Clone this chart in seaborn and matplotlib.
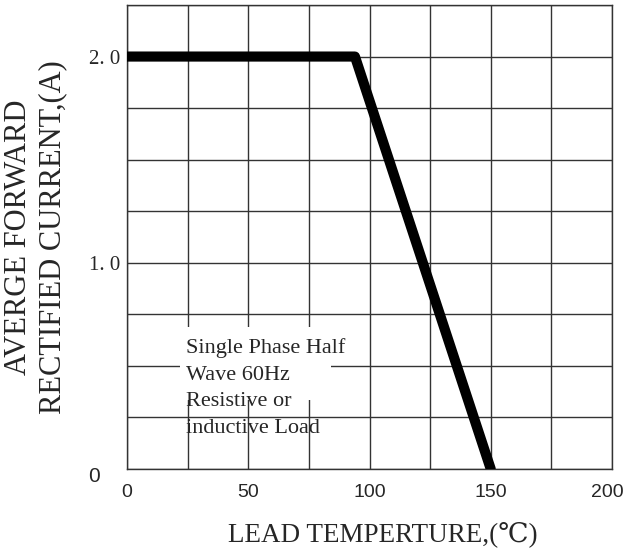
import numpy as np
import pandas as pd
import matplotlib
matplotlib.use('Agg')
import matplotlib.pyplot as plt
import matplotlib.transforms as mtrans
from matplotlib import font_manager
from matplotlib.patches import Rectangle
import seaborn as sns

# derating curve
temp = [0, 94, 150]
current = [2.0, 2.0, 0.0]

x_ticks = [0, 50, 100, 150, 200]
x_ticklabels = ['0', '50', '100', '150', '200']
y_ticks = [0, 1.0, 2.0]
y_ticklabels = ['0', '1. 0', '2. 0']

note = 'Single Phase Half\nWave 60Hz\nResistive or\ninductive Load'

installed = {f.name for f in font_manager.fontManager.ttflist}
narrow = [f for f in ['Liberation Sans Narrow', 'DejaVu Sans Condensed', 'Liberation Sans']
          if f in installed][0]
serif = ['Liberation Serif', 'DejaVu Serif']

sns.set_style('white')

df = pd.DataFrame({'temp': temp, 'current': current})

fig = plt.figure(figsize=(6.25, 5.54), dpi=100)
ax = fig.add_axes([0.2032, 0.1534, 0.7760, 0.8376])

sns.lineplot(data=df, x='temp', y='current', color='black', lw=7.3,
             solid_capstyle='round', solid_joinstyle='round', ax=ax, zorder=4)

ax.set_xlim(0, 200)
ax.set_ylim(0, 2.25)
ax.set_xticks(x_ticks)
ax.set_xticks(np.arange(0, 201, 25), minor=True)
ax.set_yticks(y_ticks)
ax.set_yticks(np.arange(0, 2.26, 0.25), minor=True)
ax.grid(which='both', color='#333333', lw=1.0)
ax.set_axisbelow(True)
for s in ax.spines.values():
    s.set_color('#333333')
    s.set_linewidth(1.0)
    s.set_visible(True)
ax.tick_params(which='both', length=0)
ax.tick_params(axis='x', pad=11)
ax.tick_params(axis='y', pad=5)

ax.set_xticklabels(x_ticklabels, fontfamily=narrow, fontsize=14)
last = ax.get_xticklabels()[-1]
last.set_transform(last.get_transform() + mtrans.ScaledTranslation(-0.05, 0, fig.dpi_scale_trans))
ax.set_yticklabels(y_ticklabels, fontfamily=serif, fontsize=15)
zero = ax.get_yticklabels()[0]
zero.set_fontfamily(narrow)
zero.set_transform(zero.get_transform() + mtrans.ScaledTranslation(-0.2, -0.05, fig.dpi_scale_trans))

ax.set_xlabel('LEAD TEMPERTURE,(℃)', fontfamily=serif, fontsize=19.5)
ax.xaxis.set_label_coords(0.528, -0.112)
ax.set_ylabel('AVERGE FORWARD\nRECTIFIED CURRENT,(A)', fontfamily=serif, fontsize=22,
              linespacing=1.2)
ax.yaxis.set_label_coords(-0.124, 0.5)

# white patch behind the note, hiding part of the grid
ax.add_patch(Rectangle((22, 0.335), 62, 0.355, facecolor='white', edgecolor='none', zorder=2))
ax.text(24.3, 0.175, note, fontfamily=serif, fontsize=16, va='baseline', ha='left',
        linespacing=1.55, zorder=3)

fig.savefig('out.png', dpi=100)
